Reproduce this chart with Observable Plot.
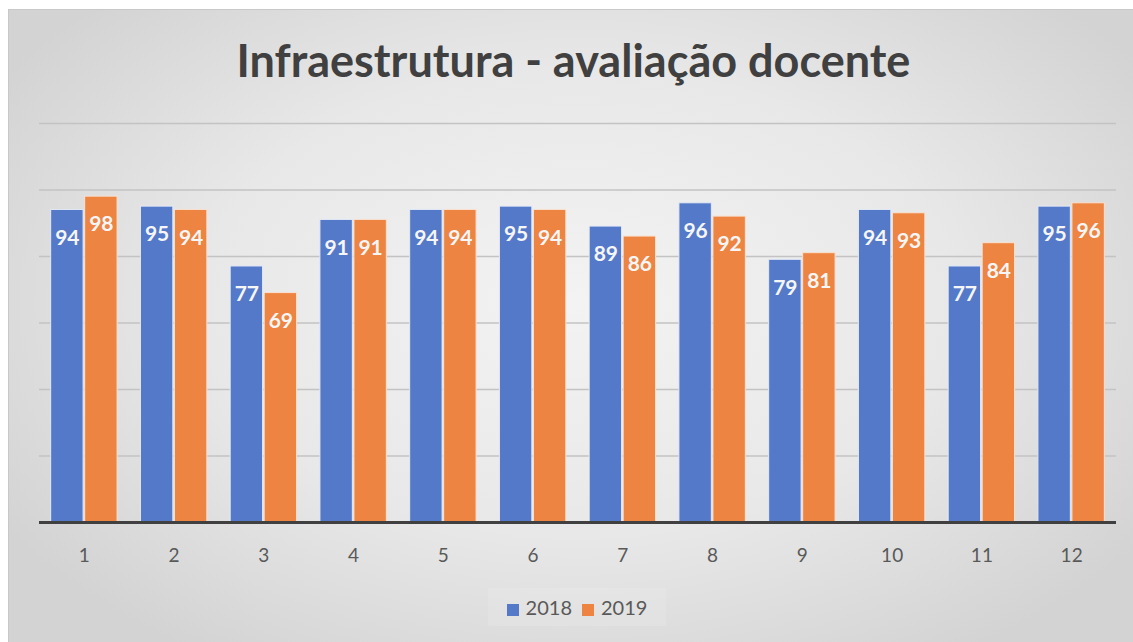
<!DOCTYPE html>
<html><head><meta charset="utf-8">
<script src="https://cdn.jsdelivr.net/npm/d3@7"></script>
<script src="https://cdn.jsdelivr.net/npm/@observablehq/plot@0.6"></script>
<style>
body{margin:0;width:1133px;height:642px;overflow:hidden;background:#fff;font-family:Lato,"Open Sans",sans-serif;position:relative;}
#frame{position:absolute;left:8px;top:9px;width:1140px;height:650px;border:1px solid #c8c8c8;background:radial-gradient(ellipse 60% 65% at 50% 45%, #f3f3f3 0%, #e8e8e8 55%, #d3d3d3 100%);}
#title{position:absolute;left:7px;width:1133px;top:33px;line-height:54px;text-align:center;font-weight:bold;font-size:45px;color:#404040;white-space:nowrap;}
#chart{position:absolute;left:0;top:100px;}
#legend{position:absolute;left:488px;top:588px;width:178px;height:38px;display:flex;align-items:center;justify-content:center;gap:10px;font-size:20px;color:#595959;background:rgba(255,255,255,0.12);}
#legend span.sw{display:inline-block;width:12px;height:12px;margin-right:7px;vertical-align:-1px;}
</style></head>
<body>
<div id="frame"></div>
<div id="title">Infraestrutura - avaliação docente</div>
<div id="chart"></div>
<div id="legend"></div>
<script>
const categories = ["1","2","3","4","5","6","7","8","9","10","11","12"];
const years = ["2018","2019"];
const values2018 = [94,95,77,91,94,95,89,96,79,94,77,95];
const values2019 = [98,94,69,91,94,94,86,92,81,93,84,96];
const gridTicks = [20,40,60,80,100,120];
const colors = {"2018":"#5479c9","2019":"#ed8442"};

const rows2018 = categories.map((c,i)=>({cat:c, year:"2018", value:values2018[i]}));
const rows2019 = categories.map((c,i)=>({cat:c, year:"2019", value:values2019[i]}));

const chart = Plot.plot({
  width:1133, height:480,
  marginTop:23, marginBottom:58, marginLeft:39, marginRight:17,
  style:{background:"transparent", fontFamily:"Lato, 'Open Sans', sans-serif", color:"#595959"},
  x:{type:"band", domain:categories, paddingInner:0.26, paddingOuter:0.13, round:false, axis:null},
  y:{domain:[0,120], axis:null},
  marks:[
    Plot.ruleY(gridTicks, {stroke:"#c3c3c3", strokeWidth:1.5}),
    Plot.barY(rows2018, {x:"cat", y:"value", fill:colors["2018"], stroke:"#e3e9f6", strokeWidth:1, insetRight:34}),
    Plot.barY(rows2019, {x:"cat", y:"value", fill:colors["2019"], stroke:"#f8e2d2", strokeWidth:1, insetLeft:34}),
    Plot.ruleY([0], {stroke:"#404040", strokeWidth:3}),
    Plot.axisX({tickSize:0, tickPadding:26, fontSize:19, fill:"#595959", label:null}),
    Plot.text(rows2018, {x:"cat", y:"value", text:d=>String(d.value), dx:-17, dy:28, fill:"#f6f6f6", fontWeight:"bold", fontSize:21}),
    Plot.text(rows2019, {x:"cat", y:"value", text:d=>String(d.value), dx:17, dy:28, fill:"#f6f6f6", fontWeight:"bold", fontSize:21})
  ]
});
document.getElementById("chart").appendChild(chart);

const legend = document.getElementById("legend");
legend.innerHTML = years.map(y=>`<span><span class="sw" style="background:${colors[y]}"></span>${y}</span>`).join("");
</script>
</body></html>
